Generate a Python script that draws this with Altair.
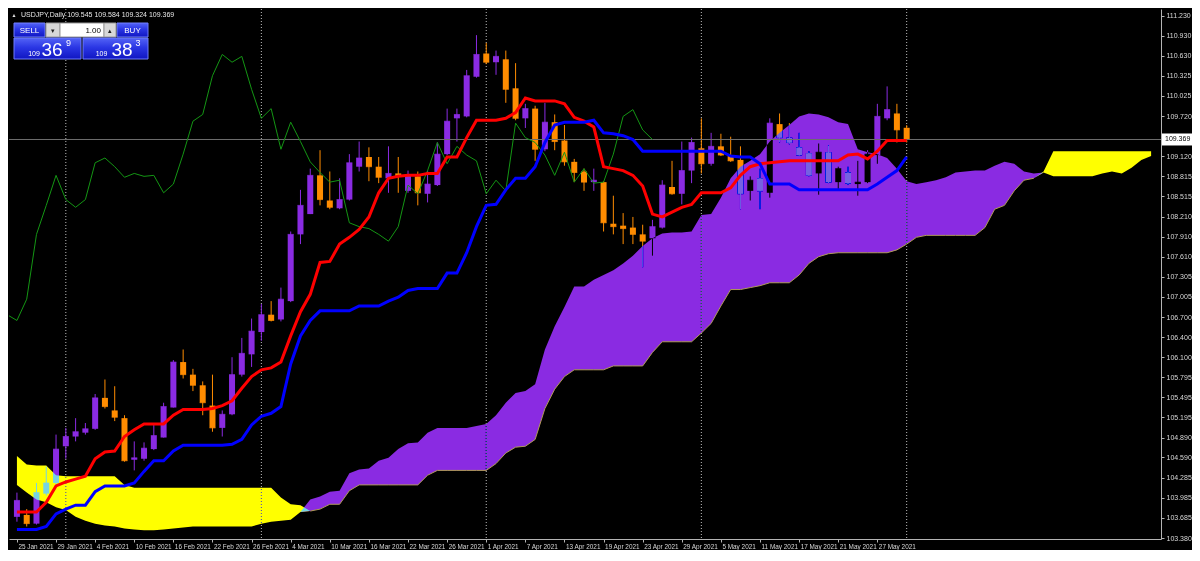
import altair as alt
import pandas as pd

# ---------------- data ----------------
date_labels = ["25 Jan 2021", "29 Jan 2021", "4 Feb 2021", "10 Feb 2021", "16 Feb 2021",
               "22 Feb 2021", "26 Feb 2021", "4 Mar 2021", "10 Mar 2021", "16 Mar 2021",
               "22 Mar 2021", "26 Mar 2021", "1 Apr 2021", "7 Apr 2021", "13 Apr 2021",
               "19 Apr 2021", "23 Apr 2021", "29 Apr 2021", "5 May 2021", "11 May 2021",
               "17 May 2021", "21 May 2021", "27 May 2021"]
date_tick_bars = [0, 4, 8, 12, 16, 20, 24, 28, 32, 36, 40, 44, 48, 52, 56, 60, 64, 68, 72, 76, 80, 84, 88]
separator_bars = [5, 25, 48, 70, 91]
price_ticks = [111.230, 110.930, 110.630, 110.325, 110.025, 109.720, 109.420, 109.120, 108.815,
               108.515, 108.210, 107.910, 107.610, 107.305, 107.005, 106.700, 106.400, 106.100,
               105.795, 105.495, 105.195, 104.890, 104.590, 104.285, 103.985, 103.685, 103.380]

opens = [103.698, 103.727, 103.596, 104.047, 104.207, 104.759, 104.905, 104.963, 105.021, 105.486,
         105.297, 105.181, 104.556, 104.571, 104.716, 104.890, 105.341, 106.024, 105.835, 105.675,
         105.370, 105.035, 105.239, 105.835, 106.140, 106.475, 106.736, 106.664, 106.940, 107.943,
         108.248, 108.830, 108.452, 108.335, 108.466, 108.960, 109.106, 108.960, 108.786, 108.859,
         108.597, 108.815, 108.553, 108.684, 109.149, 109.687, 109.716, 110.312, 110.661, 110.530,
         110.574, 110.138, 109.687, 109.833, 109.222, 109.629, 109.353, 109.033, 108.888, 108.728,
         108.728, 108.103, 108.074, 108.045, 107.943, 107.885, 108.045, 108.655, 108.553, 108.902,
         109.237, 109.004, 109.266, 109.135, 109.062, 108.597, 108.786, 108.568, 109.600, 109.397,
         109.251, 109.164, 108.859, 109.178, 108.728, 108.873, 108.699, 108.728, 109.135, 109.687,
         109.760, 109.545]
highs = [104.062, 103.814, 104.207, 104.454, 104.934, 105.035, 105.181, 105.108, 105.544, 105.762,
         105.661, 105.225, 104.832, 104.817, 105.079, 105.413, 106.053, 106.213, 105.922, 105.733,
         105.835, 105.297, 106.097, 106.387, 106.678, 106.896, 106.940, 107.143, 107.986, 108.612,
         108.931, 109.208, 108.888, 108.786, 109.149, 109.338, 109.251, 109.106, 109.266, 109.106,
         108.902, 108.888, 108.902, 109.324, 109.833, 109.833, 110.414, 110.937, 110.821, 110.705,
         110.705, 110.516, 109.905, 109.876, 109.920, 109.745, 109.586, 109.077, 108.931, 108.931,
         108.742, 108.524, 108.263, 108.205, 108.088, 108.161, 108.757, 109.048, 109.338, 109.397,
         109.687, 109.469, 109.455, 109.411, 109.266, 108.815, 108.931, 109.687, 109.760, 109.615,
         109.469, 109.193, 109.309, 109.280, 108.960, 108.960, 109.048, 109.208, 109.905, 110.167,
         109.905, 109.584]
lows = [103.625, 103.553, 103.582, 104.018, 104.178, 104.571, 104.832, 104.934, 105.006, 105.326,
        105.137, 104.527, 104.396, 104.541, 104.701, 104.890, 105.341, 105.777, 105.588, 105.225,
        104.977, 104.905, 105.225, 105.806, 105.951, 106.344, 106.635, 106.635, 106.925, 107.797,
        108.248, 108.379, 108.321, 108.321, 108.452, 108.888, 108.742, 108.713, 108.568, 108.568,
        108.568, 108.379, 108.423, 108.670, 109.135, 109.338, 109.702, 110.298, 110.501, 110.341,
        109.920, 109.658, 109.542, 109.048, 109.193, 109.208, 108.975, 108.728, 108.597, 108.597,
        107.986, 107.943, 107.797, 107.797, 107.449, 107.623, 108.030, 108.539, 108.394, 108.713,
        108.859, 108.975, 109.120, 109.033, 108.321, 108.452, 108.321, 108.495, 109.324, 109.295,
        109.120, 108.815, 108.539, 108.713, 108.626, 108.684, 108.524, 108.713, 109.004, 109.658,
        109.324, 109.324]
closes = [103.945, 103.596, 104.062, 104.207, 104.716, 104.905, 104.977, 105.021, 105.486, 105.355,
          105.195, 104.541, 104.585, 104.730, 104.919, 105.355, 106.024, 105.835, 105.675, 105.413,
          105.035, 105.239, 105.835, 106.155, 106.489, 106.736, 106.649, 106.969, 107.943, 108.379,
          108.830, 108.466, 108.350, 108.466, 109.019, 109.091, 108.960, 108.801, 108.859, 108.815,
          108.830, 108.568, 108.699, 109.149, 109.644, 109.745, 110.327, 110.647, 110.530, 110.618,
          110.123, 109.687, 109.833, 109.222, 109.629, 109.338, 109.033, 108.873, 108.728, 108.757,
          108.117, 108.059, 108.030, 107.943, 107.841, 108.059, 108.684, 108.553, 108.902, 109.324,
          109.004, 109.266, 109.135, 109.048, 108.553, 108.757, 108.597, 109.615, 109.397, 109.324,
          109.135, 108.830, 109.178, 108.728, 108.931, 108.713, 108.728, 109.149, 109.716, 109.818,
          109.513, 109.369]

tenkan = [103.771, 103.771, 103.771, 103.916, 104.163, 104.222, 104.265, 104.309, 104.571, 104.672,
          104.687, 104.905, 105.006, 105.094, 105.094, 105.094, 105.225, 105.312, 105.312, 105.312,
          105.326, 105.370, 105.443, 105.631, 105.806, 105.908, 105.937, 106.024, 106.417, 106.780,
          107.042, 107.521, 107.536, 107.798, 107.899, 108.016, 108.205, 108.568, 108.786, 108.815,
          108.830, 108.830, 108.859, 108.859, 109.106, 109.106, 109.397, 109.658, 109.658, 109.658,
          109.687, 109.774, 109.993, 109.949, 109.949, 109.949, 109.905, 109.702, 109.644, 109.556,
          108.960, 108.931, 108.902, 108.830, 108.670, 108.248, 108.205, 108.277, 108.350, 108.394,
          108.568, 108.568, 108.568, 108.641, 108.830, 108.960, 109.004, 109.019, 109.033, 109.048,
          109.048, 109.048, 109.048, 109.048, 109.048, 109.135, 109.149, 109.077, 109.193, 109.353,
          109.353, 109.353]
kijun = [103.509, 103.509, 103.509, 103.553, 103.742, 103.814, 103.873, 103.873, 104.076, 104.163,
         104.163, 104.163, 104.207, 104.381, 104.541, 104.541, 104.687, 104.774, 104.774, 104.774,
         104.774, 104.774, 104.788, 104.861, 105.079, 105.210, 105.254, 105.355, 105.995, 106.417,
         106.649, 106.794, 106.794, 106.794, 106.794, 106.867, 106.867, 106.867, 106.940, 106.998,
         107.100, 107.129, 107.129, 107.129, 107.361, 107.361, 107.667, 108.059, 108.379, 108.394,
         108.612, 108.786, 108.786, 108.960, 109.324, 109.586, 109.629, 109.629, 109.629, 109.658,
         109.469, 109.455, 109.426, 109.368, 109.193, 109.193, 109.193, 109.193, 109.193, 109.193,
         109.193, 109.193, 109.193, 109.120, 109.106, 109.106, 109.004, 108.699, 108.699, 108.699,
         108.612, 108.612, 108.612, 108.612, 108.612, 108.612, 108.612, 108.612, 108.699, 108.801,
         108.902, 109.106]
span_a = [104.178, 104.062, 103.960, 103.916, 103.844, 103.800, 103.698, 103.640, 103.596, 103.567,
          103.553, 103.524, 103.509, 103.495, 103.495, 103.509, 103.524, 103.538, 103.553, 103.553,
          103.553, 103.553, 103.553, 103.553, 103.553, 103.596, 103.625, 103.640, 103.654, 103.771,
          103.960, 104.004, 104.076, 104.091, 104.352, 104.410, 104.425, 104.541, 104.585, 104.716,
          104.803, 104.817, 104.963, 105.035, 105.035, 105.035, 105.035, 105.064, 105.094, 105.225,
          105.413, 105.559, 105.588, 105.690, 106.213, 106.562, 106.853, 107.158, 107.158, 107.260,
          107.332, 107.405, 107.507, 107.623, 107.768, 107.885, 107.957, 107.972, 107.972, 107.986,
          108.234, 108.248, 108.495, 108.786, 108.960, 109.048, 109.149, 109.338, 109.469, 109.586,
          109.716, 109.760, 109.745, 109.702, 109.629, 109.600, 109.222, 109.178, 109.149, 109.091,
          108.931, 108.742, 108.699, 108.728, 108.757, 108.801, 108.873, 108.888, 108.902, 108.902,
          108.975, 109.033, 109.004, 108.888, 108.859, 108.873, 108.815, 108.815, 108.815, 108.815,
          108.815, 108.859, 108.888, 108.859, 108.946, 109.062, 109.120]
span_b = [104.614, 104.483, 104.469, 104.469, 104.323, 104.309, 104.309, 104.309, 104.309, 104.309,
          104.309, 104.178, 104.134, 104.134, 104.134, 104.134, 104.134, 104.134, 104.134, 104.134,
          104.134, 104.134, 104.134, 104.134, 104.134, 104.134, 104.134, 103.989, 103.887, 103.873,
          103.785, 103.814, 103.887, 103.887, 104.091, 104.178, 104.178, 104.178, 104.178, 104.178,
          104.178, 104.178, 104.323, 104.396, 104.396, 104.396, 104.396, 104.396, 104.396, 104.498,
          104.657, 104.745, 104.759, 104.861, 105.326, 105.617, 105.806, 105.908, 105.908, 105.908,
          105.908, 105.966, 105.966, 105.966, 105.966, 106.169, 106.329, 106.329, 106.329, 106.329,
          106.460, 106.605, 106.867, 107.114, 107.114, 107.143, 107.172, 107.216, 107.216, 107.216,
          107.332, 107.507, 107.608, 107.652, 107.667, 107.667, 107.667, 107.667, 107.667, 107.667,
          107.710, 107.797, 107.899, 107.928, 107.928, 107.928, 107.928, 107.928, 107.928, 108.045,
          108.321, 108.379, 108.597, 108.757, 108.786, 108.888, 109.193, 109.193, 109.193, 109.193,
          109.193, 109.193, 109.193, 109.193, 109.193, 109.193, 109.193]
chikou_shift = 26
last_price = 109.369
symbol_line = "USDJPY,Daily  109.545 109.584 109.324 109.369"

# ---------------- tables ----------------
n = len(opens)
candles = pd.DataFrame({"idx": list(range(n)), "open": opens, "high": highs, "low": lows, "close": closes})
lines = pd.DataFrame({"idx": list(range(n)), "tenkan": tenkan, "kijun": kijun})
cloud = pd.DataFrame({"idx": list(range(len(span_a))), "a": span_a, "b": span_b})
chikou = pd.DataFrame({"idx": [i - chikou_shift for i in range(n)], "v": closes})
seps = pd.DataFrame({"idx": separator_bars})
last = pd.DataFrame({"p": [last_price], "label": [f"{last_price:.3f}"]})
one = pd.DataFrame({"k": [0]})

# ---------------- scales / axes ----------------
W, H = 1152, 530
FONT = "Liberation Sans"
x_scale = alt.Scale(domain=[-0.3, 116.5], nice=False, zero=False)
y_scale = alt.Scale(domain=[103.365, 111.33], nice=False, zero=False)

label_expr = ("[" + ",".join(f"'{d}'" for d in date_labels) + "][indexof(["
              + ",".join(str(t) for t in date_tick_bars) + "], datum.value)]")
# the axis label hidden behind the last-price box is left blank
y_label_expr = f"abs(datum.value - {last_price}) < 0.06 ? '' : format(datum.value, '.3f')"
x_axis = alt.Axis(values=date_tick_bars, labelExpr=label_expr, title=None, grid=False,
                  labelAlign="left", labelBaseline="top", labelPadding=1, labelOffset=1,
                  labelOverlap=False, labelFlush=False, labelBound=False,
                  labelFont=FONT, labelFontSize=6.4, labelColor="#d8d8d8",
                  tickColor="#b4b4b4", tickSize=3, domainColor="#b4b4b4")
y_axis = alt.Axis(values=price_ticks, labelExpr=y_label_expr, orient="right", title=None, grid=False,
                  labelPadding=2, labelOverlap=False, labelFlush=False, labelBound=False,
                  labelFont=FONT, labelFontSize=7, labelColor="#d8d8d8",
                  tickColor="#b4b4b4", tickSize=3, domainColor="#b4b4b4")


def X(field):
    return alt.X(field, type="quantitative", scale=x_scale, axis=x_axis)


def Y(field):
    return alt.Y(field, type="quantitative", scale=y_scale, axis=y_axis)


dir_color = alt.Color("dir:N", scale=alt.Scale(domain=["up", "down"], range=["#8a2be2", "#ff8c00"]),
                      legend=None)

# ---------------- layers ----------------
separators = alt.Chart(seps).mark_rule(color="#bdbdbd", strokeDash=[1, 2], strokeWidth=1).encode(x=X("idx"))

cbase = alt.Chart(candles).transform_calculate(dir="datum.close >= datum.open ? 'up' : 'down'")
wicks = cbase.mark_rule(strokeWidth=1).encode(x=X("idx"), y=Y("low"), y2="high", color=dir_color)
bodies = cbase.mark_bar(size=6).encode(x=X("idx"), y=Y("open"), y2="close", color=dir_color)
dojis = cbase.mark_tick(orient="horizontal", size=6, thickness=1).encode(
    x=X("idx"), y=Y("close"), color=dir_color)

# cloud drawn in "difference" mode, so candles under it change colour as in the terminal
cl = alt.Chart(cloud).transform_calculate(lo="min(datum.a, datum.b)")
cloud_up = cl.mark_area(color="#8a2be2", blend="difference").encode(x=X("idx"), y=Y("a"), y2="lo")
cloud_dn = cl.mark_area(color="#ffff00", blend="difference").encode(x=X("idx"), y=Y("b"), y2="lo")
span_b_line = alt.Chart(cloud).transform_filter("datum.a >= datum.b").mark_line(
    color="#b09a58", strokeWidth=1).encode(x=X("idx"), y=Y("b"))

price_line = alt.Chart(last).mark_rule(color="#6e6e6e", strokeWidth=1).encode(y=Y("p"))

chikou_line = alt.Chart(chikou).mark_line(color="#149614", strokeWidth=1, clip=True).encode(x=X("idx"), y=Y("v"))
kijun_line = alt.Chart(lines).mark_line(color="#0000ff", strokeWidth=3).encode(x=X("idx"), y=Y("kijun"))
tenkan_line = alt.Chart(lines).mark_line(color="#ff0000", strokeWidth=3).encode(x=X("idx"), y=Y("tenkan"))

price_box = alt.Chart(last).mark_rect(fill="white", yOffset=-6, y2Offset=6).encode(
    x=alt.value(W + 1), x2=alt.value(W + 31), y=Y("p"), y2="p")
price_txt = alt.Chart(last).mark_text(font=FONT, fontSize=7, color="black", align="left", baseline="middle").encode(
    x=alt.value(W + 4), y=Y("p"), text="label:N")


# ---------------- one-click trading panel (decoration) ----------------
def blue_grad():
    return alt.Gradient(gradient="linear", x1=0, x2=0, y1=0, y2=1,
                        stops=[alt.GradientStop(color="#5363f6", offset=0),
                               alt.GradientStop(color="#2a36e4", offset=0.45),
                               alt.GradientStop(color="#1016c2", offset=1)])


def ui_rect(x1, x2, y1, y2, fill, stroke="#6f7cff"):
    return alt.Chart(one).mark_rect(fill=fill, stroke=stroke, strokeWidth=1).encode(
        x=alt.value(x1), x2=alt.value(x2), y=alt.value(y1), y2=alt.value(y2))


def ui_text(x, y, txt, size, color="white", align="center", baseline="middle", weight="normal"):
    return alt.Chart(one).mark_text(text=txt, font=FONT, fontSize=size, color=color, align=align,
                                    baseline=baseline, fontWeight=weight).encode(
        x=alt.value(x), y=alt.value(y))


panel = [
    ui_rect(5, 36, 14, 28, blue_grad()),
    ui_rect(108, 139, 14, 28, blue_grad()),
    ui_rect(37, 51, 14, 28, "#d8d8d8", stroke="#9a9a9a"),
    ui_rect(51, 95, 14, 28, "#ffffff", stroke="#9a9a9a"),
    ui_rect(95, 107, 14, 28, "#d8d8d8", stroke="#9a9a9a"),
    ui_rect(5, 72, 29, 50, blue_grad()),
    ui_rect(74, 139, 29, 50, blue_grad()),
    ui_text(20.5, 21.5, "SELL", 8),
    ui_text(123.5, 21.5, "BUY", 8),
    ui_text(44, 21.5, "\u25be", 7, color="#202020"),
    ui_text(101, 21.5, "\u25b4", 7, color="#202020"),
    ui_text(92, 21.5, "1.00", 8, color="#000000", align="right"),
    ui_text(25, 47, "109", 7, baseline="alphabetic"),
    ui_text(43, 47, "36", 19, baseline="alphabetic"),
    ui_text(59.5, 37, "9", 9, baseline="alphabetic"),
    ui_text(92.5, 47, "109", 7, baseline="alphabetic"),
    ui_text(113, 47, "38", 19, baseline="alphabetic"),
    ui_text(129, 37, "3", 9, baseline="alphabetic"),
    ui_text(5, 6, "\u25b2", 5, color="#e0e0e0"),
    ui_text(12, 6, symbol_line, 7, color="#e6e6e6", align="left"),
]

chart = alt.layer(
    separators, wicks, bodies, dojis, cloud_up, cloud_dn, span_b_line, price_line,
    chikou_line, tenkan_line, kijun_line, price_box, price_txt, *panel
).properties(
    width=W, height=H, padding={"left": 0, "top": 0, "right": 0, "bottom": 0}
).configure(background="black").configure_view(stroke=None)

chart.save("out.html", embed_options={"renderer": "svg", "actions": False})
